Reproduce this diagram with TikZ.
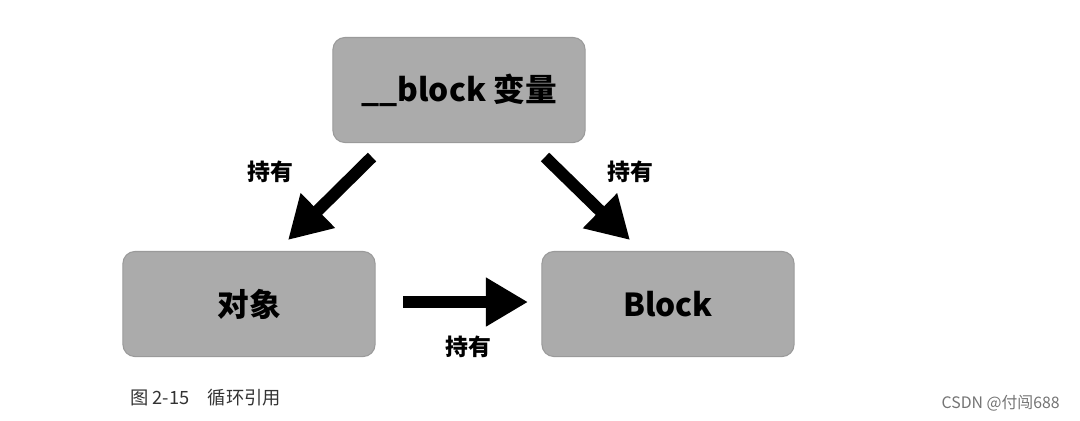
\documentclass[tikz,border=0pt]{standalone}
\usepackage{fontspec}
\setmainfont{Noto Sans CJK SC}
\usetikzlibrary{arrows.meta}
\definecolor{boxgray}{HTML}{ABABAB}
\begin{document}
\begin{tikzpicture}[x=0.01cm,y=-0.01cm,
  box/.style={fill=boxgray,draw=boxgray!90!black,line width=0.3pt,rounded corners=0.12cm,minimum width=2.52cm,minimum height=1.05cm,font=\fontsize{9}{10}\selectfont\bfseries},
  arr/.style={line width=0.12cm,-{Triangle[length=0.42cm,width=0.46cm]}},
  lab/.style={font=\fontsize{6.5}{7}\selectfont\bfseries}]
\useasboundingbox (0,0) rectangle (1080,420);
\node[box] (var) at (459,90) {\_\_block 变量};
\node[box] (obj) at (249,304) {对象};
\node[box] (blk) at (668,304) {Block};
\coordinate (a1) at (372,157); \coordinate (a2) at (288,240);
\coordinate (b1) at (545,157); \coordinate (b2) at (630,240);
\coordinate (c1) at (403,302); \coordinate (c2) at (528,302);
\draw[arr] (a1) -- (a2);
\draw[arr] (b1) -- (b2);
\draw[arr] (c1) -- (c2);
\node[lab] (l1) at (270,172) {持有};
\node[lab] (l2) at (630,172) {持有};
\node[lab] (l3) at (468,347) {持有};
\node[anchor=west,font=\fontsize{5.2}{6}\selectfont,text=black!80] (cap) at (118,398) {图 2-15\quad 循环引用};
\node[anchor=east,font=\fontsize{4.5}{5}\selectfont,text=black!55] (csdn) at (1072,403) {CSDN @付闯688};
\end{tikzpicture}
\end{document}
